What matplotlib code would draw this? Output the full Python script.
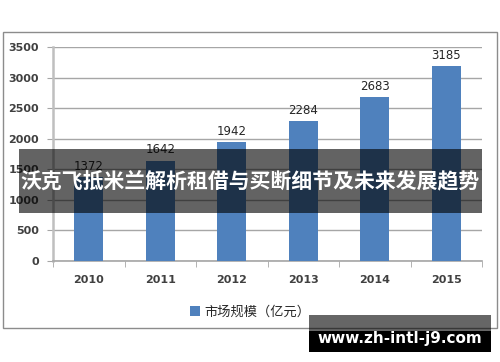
import matplotlib
matplotlib.use("Agg")
import matplotlib.pyplot as plt
from matplotlib.patches import Rectangle

years = ["2010", "2011", "2012", "2013", "2014", "2015"]
values = [1372, 1642, 1942, 2284, 2683, 3185]
yticks = [0, 500, 1000, 1500, 2000, 2500, 3000, 3500]
legend_label = "市场规模（亿元）"
banner_text = "沃克飞抵米兰解析租借与买断细节及未来发展趋势"
watermark = "www.zh-intl-j9.com"

W, H = 500, 362
fig = plt.figure(figsize=(W / 100, H / 100), dpi=100)
fig.patch.set_facecolor("white")

def fx(px):
    return px / W

def fy(py):
    return 1 - py / H

# outer chart border
fig.add_artist(Rectangle((fx(3), fy(328)), fx(494), 296 / H, transform=fig.transFigure,
                         fill=False, edgecolor="#8c8c8c", lw=1.0, zorder=0))

ax = fig.add_axes([fx(53), fy(261), fx(482 - 53), (261 - 47) / H])
x = list(range(len(years)))
bars = ax.bar(x, values, width=0.4, color="#4f81bd", zorder=3, label=legend_label)
ax.set_xlim(-0.5, len(years) - 0.5)
ax.set_ylim(0, 3500)
ax.set_yticks(yticks)
ax.set_yticklabels([str(v) for v in yticks], fontsize=8, fontweight="bold", color="#404040")
ax.set_xticks(x)
ax.set_xticklabels(years, fontsize=8, fontweight="bold", color="#404040")
ax.set_xticks([i - 0.5 for i in range(len(years) + 1)], minor=True)
ax.tick_params(axis="x", which="major", length=0, pad=10)
ax.tick_params(axis="x", which="minor", length=4, color="#a6a6a6", direction="out")
ax.tick_params(axis="y", length=4, color="#a6a6a6", pad=6)
ax.grid(axis="y", color="#a6a6a6", lw=1.0, zorder=0)
for s in ["top", "right"]:
    ax.spines[s].set_visible(False)
ax.spines["left"].set_color("#bfbfbf")
ax.spines["left"].set_linewidth(1.8)
ax.spines["bottom"].set_color("#a6a6a6")
ax.spines["bottom"].set_linewidth(1.2)

for xi, v in zip(x, values):
    ax.text(xi, v + 70, str(v), ha="center", va="bottom", fontsize=8.5, color="#262626")

fig.legend(handles=[bars], labels=[legend_label], loc="center",
           bbox_to_anchor=(fx(250), fy(312)), frameon=False,
           handlelength=0.8, handleheight=0.8, handletextpad=0.3,
           prop={"family": ["Noto Sans CJK SC", "DejaVu Sans"], "size": 9.5})
leg_text = fig.legends[0].get_texts()[0]
leg_text.set_color("#262626")

# banner overlay
fig.add_artist(Rectangle((fx(19), fy(213)), fx(463), 64 / H, transform=fig.transFigure,
                         facecolor="black", alpha=0.61, edgecolor="none", zorder=10))
fig.text(fx(250), fy(182), banner_text, ha="center", va="center", color="white",
         fontsize=15, fontweight="bold", family=["Noto Sans CJK SC", "DejaVu Sans"], zorder=11)

# watermark box
fig.add_artist(Rectangle((fx(309), fy(352)), fx(182), 37 / H, transform=fig.transFigure,
                         facecolor="black", alpha=0.6, edgecolor="none", zorder=10))
fig.add_artist(Rectangle((fx(309), fy(352)), fx(182), 21 / H, transform=fig.transFigure,
                         facecolor="black", alpha=1.0, edgecolor="none", zorder=10))
fig.text(fx(400), fy(338), watermark, ha="center", va="center", color="white",
         fontsize=11, fontweight="bold", family="DejaVu Sans", zorder=11)

fig.savefig("out.png", dpi=100)
